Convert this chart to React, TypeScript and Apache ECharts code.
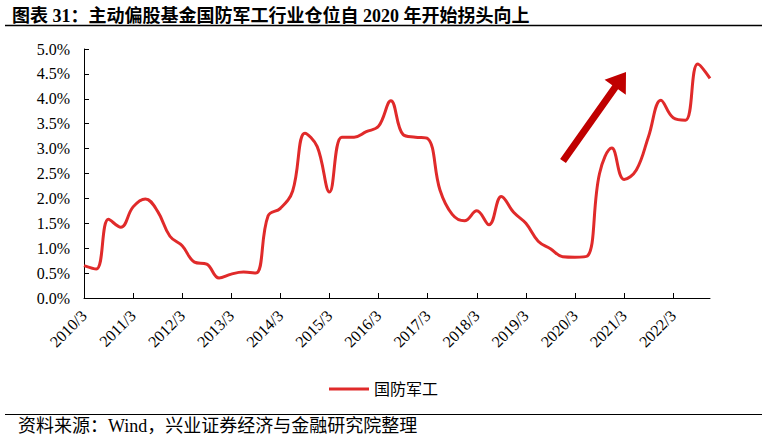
import React, { useEffect, useRef } from "react";
import * as echarts from "echarts";

const quarters: string[] = [];
for (let y = 2010; y <= 2022; y++) {
  for (const m of [3, 6, 9, 12]) quarters.push(`${y}/${m}`);
}

const seriesName = "国防军工";
const weights: number[] = [
  0.65, 0.58, 1.58, 1.42, 1.83, 1.99, 1.74, 1.24, 1.05, 0.72,
  0.68, 0.40, 0.48, 0.52, 0.50, 1.65, 1.80, 2.15, 3.31, 3.04,
  2.13, 3.23, 3.23, 3.34, 3.45, 3.96, 3.28, 3.23, 3.20, 2.17,
  1.68, 1.55, 1.75, 1.47, 2.04, 1.72, 1.50, 1.14, 0.99, 0.83,
  0.82, 0.84, 2.50, 3.01, 2.38, 2.57, 3.25, 3.97, 3.62, 3.57,
  4.70, 4.41,
];

const titleText = "图表 31：主动偏股基金国防军工行业仓位自 2020 年开始拐头向上";
const sourceText = "资料来源：Wind，兴业证券经济与金融研究院整理";

const SERIF = "'Liberation Serif', 'Noto Sans CJK SC', serif";

export default function App() {
  const ref = useRef<HTMLDivElement>(null);
  useEffect(() => {
    if (!ref.current) return;
    const chart = echarts.init(ref.current, undefined, { renderer: "svg" });
    chart.setOption({
      animation: false,
      backgroundColor: "#ffffff",
      title: {
        text: titleText,
        left: 7,
        top: 2,
        textStyle: { fontSize: 18, fontWeight: "bold", fontFamily: SERIF, color: "#000" },
      },
      grid: { left: 84, right: 57, top: 49, bottom: 140 },
      legend: {
        data: [seriesName],
        left: "center",
        top: 376,
        icon: "rect",
        itemWidth: 40,
        itemHeight: 3,
        itemGap: 5,
        textStyle: { fontSize: 16, fontFamily: SERIF, color: "#000" },
      },
      xAxis: {
        type: "category",
        data: quarters,
        boundaryGap: false,
        axisLine: { lineStyle: { color: "#000", width: 1 } },
        axisTick: { inside: true, length: 5, interval: 3, lineStyle: { color: "#000" } },
        axisLabel: {
          interval: 3,
          rotate: 45,
          margin: 15,
          fontSize: 16,
          fontFamily: SERIF,
          color: "#000",
        },
        splitLine: { show: false },
      },
      yAxis: {
        type: "value",
        min: 0,
        max: 5,
        interval: 0.5,
        axisLine: { show: true, lineStyle: { color: "#000", width: 1 } },
        axisTick: { show: true, inside: true, length: 5, lineStyle: { color: "#000" } },
        axisLabel: {
          formatter: (v: number) => v.toFixed(1) + "%",
          fontSize: 16,
          margin: 14,
          fontFamily: SERIF,
          color: "#000",
        },
        splitLine: { show: false },
      },
      series: [
        {
          name: seriesName,
          type: "line",
          data: weights,
          smooth: 0.4,
          symbol: "none",
          lineStyle: { color: "#e02a2a", width: 3 },
          itemStyle: { color: "#e02a2a" },
        },
      ],
      graphic: [
        {
          type: "line",
          shape: { x1: 5, y1: 25.5, x2: 762, y2: 25.5 },
          style: { stroke: "#000", lineWidth: 1.5 },
        },
        {
          type: "line",
          shape: { x1: 5, y1: 414.5, x2: 762, y2: 414.5 },
          style: { stroke: "#000", lineWidth: 1 },
        },
        {
          type: "text",
          left: 18,
          top: 417,
          style: { text: sourceText, fontSize: 18, fontFamily: SERIF, fill: "#000" },
        },
        {
          type: "polygon",
          shape: {
            points: [
              [560.1, 159],
              [612.3, 85.2],
              [604.6, 79.7],
              [626, 72],
              [625.8, 94.7],
              [618.1, 89.2],
              [565.9, 163],
            ],
          },
          style: { fill: "#c00000" },
        },
      ],
    });
    return () => chart.dispose();
  }, []);
  return <div ref={ref} style={{ width: 767, height: 438, position: "absolute", left: 0, top: 0 }} />;
}
